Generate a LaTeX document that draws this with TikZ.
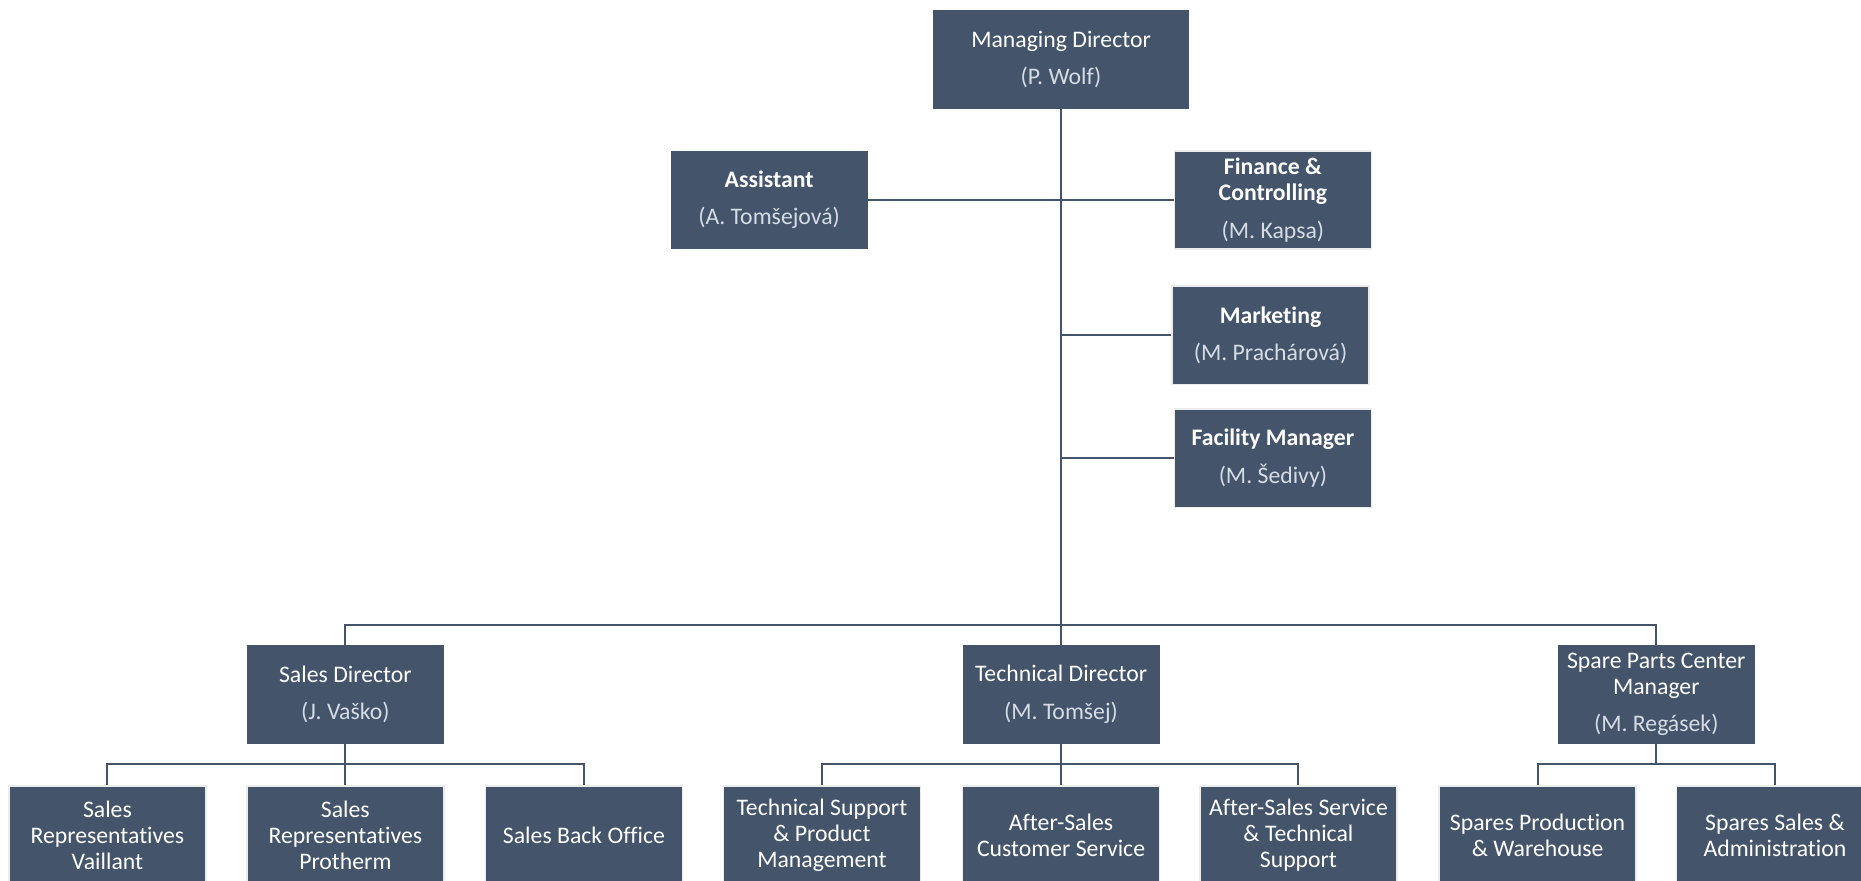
\documentclass[tikz,border=0pt]{standalone}
\usepackage{fontspec}
\setmainfont{Carlito}[RawFeature={-liga;-clig;-calt;-dlig}]
\usetikzlibrary{positioning,calc}

\definecolor{boxblue}{HTML}{44546A}
\definecolor{namegray}{HTML}{D6DCE4}
\newcommand{\staffname}[1]{\\[9.5pt]\textcolor{namegray}{#1}}

\begin{document}
\begin{tikzpicture}[
    x=1pt, y=-1pt,
    unit/.style={fill=boxblue, text=white, align=center, inner sep=0pt,
        minimum width=166pt, minimum height=83pt, font=\fontsize{20}{22}\selectfont},
    head/.style={unit, minimum width=215pt},
    staff/.style={unit, draw=gray!15, line width=1.5pt},
    link/.style={draw=boxblue, line width=1.7pt},
]
\useasboundingbox[fill=white] (0,0) rectangle (1568,741.5);

% top management
\node[head] (md) at (894,50) {Managing Director\staffname{(P. Wolf)}};
\node[unit] (asst) at (648,168.5) {\textbf{Assistant}\staffname{(A. Tomšejová)}};
\node[staff] (fin) at (1072.5,168.5) {\textbf{Finance \&}\\\textbf{Controlling}\staffname{(M. Kapsa)}};
\node[staff] (mkt) at (1070.5,282.5) {\textbf{Marketing}\staffname{(M. Prachárová)}};
\node[staff] (fac) at (1072.5,386) {\textbf{Facility Manager}\staffname{(M. Šedivy)}};

% directors
\node[unit] (sales) at (291,585) {Sales Director\staffname{(J. Vaško)}};
\node[unit] (tech) at (894,585) {Technical Director\staffname{(M. Tomšej)}};
\node[unit] (spare) at (1395.5,585) {Spare Parts Center\\Manager\staffname{(M. Regásek)}};

% departments
\node[staff] (srv) at (90.5,703.5) {Sales\\Representatives\\Vaillant};
\node[staff] (srp) at (291,703.5) {Sales\\Representatives\\Protherm};
\node[staff] (sbo) at (492,703.5) {Sales Back Office};
\node[staff] (tspm) at (692.5,703.5) {Technical Support\\\& Product\\Management};
\node[staff] (ascs) at (894,703.5) {After-Sales\\Customer Service};
\node[staff] (asts) at (1094,703.5) {After-Sales Service\\\& Technical\\Support};
\node[staff] (spw) at (1295.5,703.5) {Spares Production\\\& Warehouse};
\node[staff] (ssa) at (1495.5,703.5) {Spares Sales \&\\Administration};

\coordinate (bus) at (894,527);
\coordinate (sbus) at ($(sales.south)!0.5!(srp.north)$);
\coordinate (tbus) at ($(tech.south)!0.5!(ascs.north)$);
\coordinate (pbus) at (spare.south |- sbus);

% connectors
\draw[link] (md.south) -- (bus);
\draw[link] (asst.east) -- (fin.west);
\draw[link] (mkt.west) -- (mkt.west -| md.south);
\draw[link] (fac.west) -- (fac.west -| md.south);
\draw[link] (sales.north) |- (bus) -| (spare.north);
\draw[link] (bus) -- (tech.north);

\draw[link] (sales.south) -- (sbus);
\draw[link] (srv.north) |- (sbus) -| (sbo.north);
\draw[link] (sbus) -- (srp.north);

\draw[link] (tech.south) -- (tbus);
\draw[link] (tspm.north) |- (tbus) -| (asts.north);
\draw[link] (tbus) -- (ascs.north);

\draw[link] (spare.south) -- (pbus);
\draw[link] (spw.north) |- (pbus) -| (ssa.north);
\end{tikzpicture}
\end{document}
